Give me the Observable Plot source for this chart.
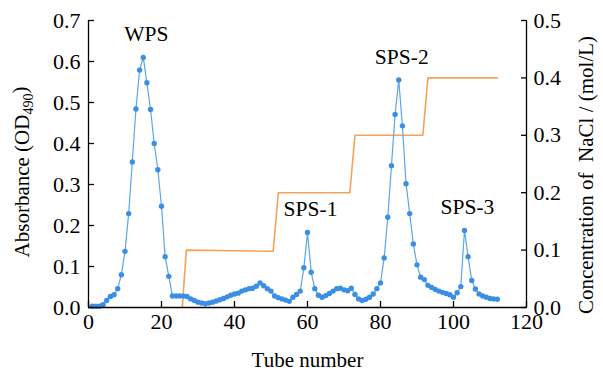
<!DOCTYPE html>
<html><head><meta charset="utf-8">
<script src="https://cdn.jsdelivr.net/npm/d3@7"></script>
<script src="https://cdn.jsdelivr.net/npm/@observablehq/plot@0.6"></script>
<style>
body{margin:0;background:#fff}
svg, svg g, svg text, svg tspan{font-family:"Liberation Serif","Times New Roman",serif !important}
</style>
</head><body><div id="chart"></div>
<script>
// Absorbance (OD490) per tube, tubes 1..112
const absorbance = [
  0.003,0.003,0.003,0.007,0.017,0.027,0.031,0.046,0.080,0.137,
  0.229,0.355,0.484,0.579,0.610,0.548,0.483,0.400,0.336,0.247,
  0.124,0.076,0.028,0.028,0.028,0.028,0.027,0.021,0.017,0.013,
  0.011,0.009,0.011,0.013,0.016,0.019,0.022,0.026,0.030,0.033,
  0.035,0.040,0.043,0.046,0.047,0.052,0.060,0.053,0.046,0.040,
  0.028,0.024,0.021,0.018,0.015,0.025,0.032,0.040,0.097,0.183,
  0.086,0.046,0.030,0.025,0.029,0.034,0.040,0.046,0.047,0.043,
  0.041,0.047,0.032,0.021,0.017,0.020,0.025,0.033,0.046,0.060,
  0.121,0.220,0.346,0.471,0.555,0.443,0.302,0.229,0.155,0.104,
  0.074,0.068,0.054,0.049,0.044,0.040,0.037,0.034,0.031,0.025,
  0.036,0.051,0.188,0.124,0.066,0.045,0.033,0.028,0.025,0.022,
  0.021,0.020
];
const tubes = absorbance.map((_, i) => i + 1);

// NaCl gradient (step elution)
const naclTube = [25.7, 26.8, 50.6, 52.0, 71.6, 73.0, 91.6, 93.0, 112.0];
const naclConc = [0, 0.1, 0.098, 0.2, 0.2, 0.3, 0.3, 0.4, 0.4];

// Peak labels
const peakNames = ["WPS", "SPS-1", "SPS-2", "SPS-3"];
const peakTubes = [15, 60, 85, 103];

// Ticks
const xTicks = [0, 20, 40, 60, 80, 100, 120];
const yTicks = [0, 0.1, 0.2, 0.3, 0.4, 0.5, 0.6, 0.7];
const y2Ticks = [0, 0.1, 0.2, 0.3, 0.4, 0.5];

const yMax = 0.7, y2Max = 0.5, k = yMax / y2Max;

const absData = tubes.map((t, i) => ({tube: t, a: absorbance[i]}));
const naclData = naclTube.map((t, i) => ({tube: t, c: naclConc[i] * k}));
const peakData = peakNames.map((n, i) => ({name: n, tube: peakTubes[i], a: absorbance[peakTubes[i] - 1]}));

const blueLine = "#5ba6ea", blueDot = "#3a8fe4", orange = "#f5a25d";
const serif = "Liberation Serif";

const chart = Plot.plot({
  width: 603, height: 370,
  marginLeft: 88, marginRight: 77, marginTop: 20, marginBottom: 63,
  style: {fontFamily: serif, fontSize: "20px", color: "#000", background: "#fff", overflow: "visible"},
  x: {domain: [0, 120]},
  y: {domain: [0, yMax]},
  marks: [
    Plot.line(naclData, {x: "tube", y: "c", stroke: orange, strokeWidth: 1.6}),
    Plot.line(absData, {x: "tube", y: "a", stroke: blueLine, strokeWidth: 1.2}),
    Plot.dot(absData, {x: "tube", y: "a", r: 2.7, fill: blueDot, stroke: "none"}),
    Plot.text(peakData, {x: "tube", y: "a", text: "name", dx: 3, dy: -16, fontSize: 21.5, fontFamily: serif, fill: "#000", lineAnchor: "bottom"}),
    // frame lines (left, right, bottom)
    Plot.ruleX([0, 120], {stroke: "#000", strokeWidth: 1.3}),
    Plot.ruleY([0], {stroke: "#000", strokeWidth: 1.3}),
    // left axis: ticks inside, then labels
    Plot.axisY(yTicks, {anchor: "left", tickSize: 6, dx: 6, fill: "none", strokeWidth: 1.3, label: null}),
    Plot.axisY(yTicks, {anchor: "left", tickSize: 0, tickPadding: 8, tickFormat: d => d.toFixed(1), fontSize: 22, fontFamily: serif, label: null}),
    // right axis (NaCl)
    Plot.axisY(y2Ticks.map(v => v * k), {anchor: "right", tickSize: 6, dx: -6, fill: "none", strokeWidth: 1.3, label: null}),
    Plot.axisY(y2Ticks.map(v => v * k), {anchor: "right", tickSize: 0, tickPadding: 7, tickFormat: d => (d / k).toFixed(1), fontSize: 22, fontFamily: serif, label: null}),
    // bottom axis
    Plot.axisX(xTicks, {anchor: "bottom", tickSize: 6, dy: -6, fill: "none", strokeWidth: 1.3, label: null}),
    Plot.axisX(xTicks, {anchor: "bottom", tickSize: 0, tickPadding: 6, fontSize: 22, fontFamily: serif, label: null}),
    // axis titles
    Plot.text(["Tube number"], {frameAnchor: "bottom", dy: 59, textAnchor: "middle", fontSize: 21, fontFamily: serif}),
    Plot.text(["Absorbance (OD490)"], {frameAnchor: "left", dx: -66, dy: 8, rotate: -90, textAnchor: "middle", lineAnchor: "middle", fontSize: 21, fontFamily: serif}),
    Plot.text(["Concentration of\u00a0 NaCl / (mol/L)"], {frameAnchor: "right", dx: 60, dy: 11, rotate: -90, textAnchor: "middle", lineAnchor: "middle", fontSize: 21, fontFamily: serif})
  ]
});

// subscript for OD490
d3.select(chart).selectAll("text").filter(function() { return this.textContent === "Absorbance (OD490)"; })
  .each(function() {
    const t = d3.select(this);
    t.text("");
    t.append("tspan").text("Absorbance (OD");
    t.append("tspan").attr("dy", "0.3em").attr("font-size", "14px").text("490");
    t.append("tspan").attr("dy", "-0.3em").text(")");
  });

document.getElementById("chart").appendChild(chart);
</script>
</body></html>
